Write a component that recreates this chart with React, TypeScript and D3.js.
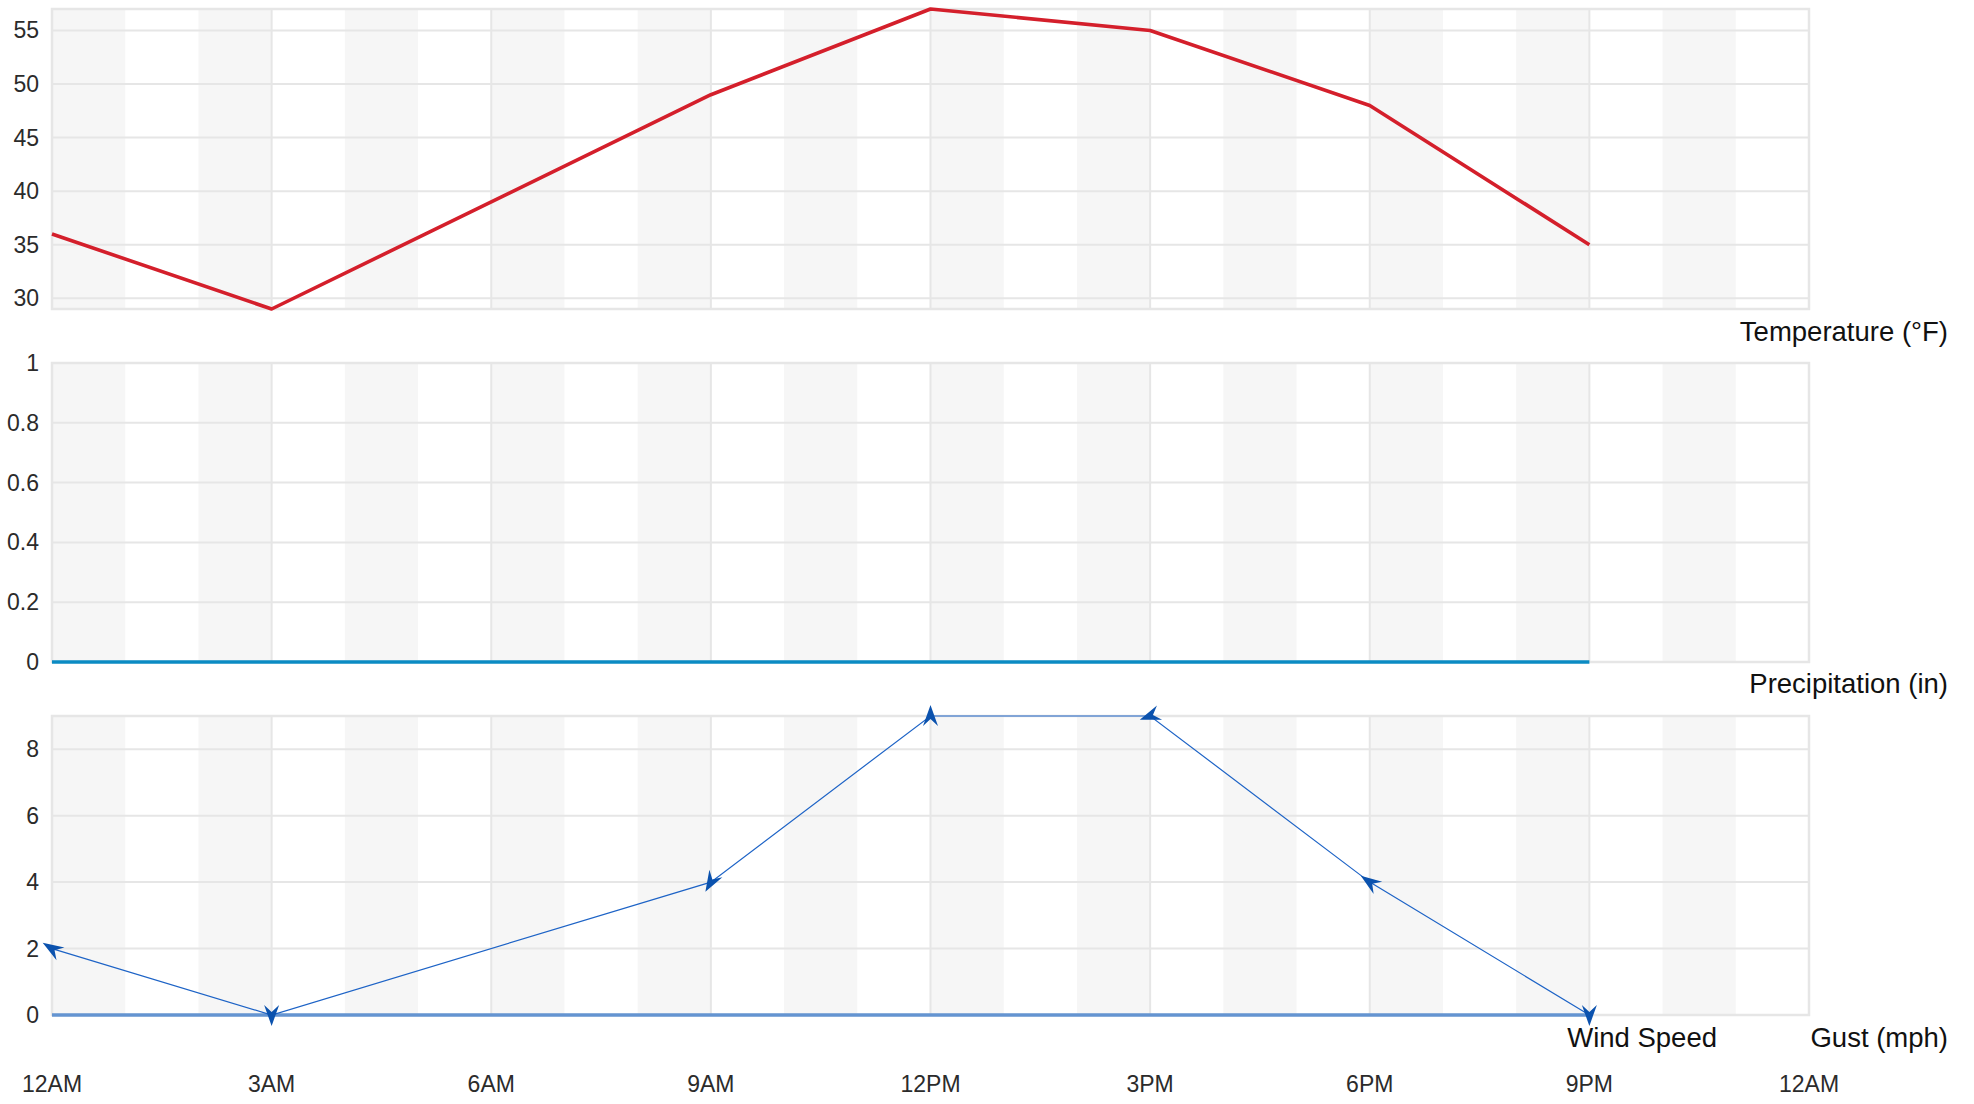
import React from "react";
import * as d3 from "d3";

// ---------- data ----------
const hours = [0, 3, 9, 12, 15, 18, 21];
const temperature = [36, 29, 49, 57, 55, 48, 35];
const precipitation = [0, 0, 0, 0, 0, 0, 0];
const windSpeed = [2, 0, 4, 9, 9, 4, 0];
const windGust = [0, 0, 0, 0, 0, 0, 0];
const windDirection = [122, 0, 30, 180, 70, 125, 0]; // compass degrees wind comes from

const xTickHours = [0, 3, 6, 9, 12, 15, 18, 21, 24];
const xTickLabels = ["12AM", "3AM", "6AM", "9AM", "12PM", "3PM", "6PM", "9PM", "12AM"];
const tempTicks = [30, 35, 40, 45, 50, 55];
const precipTicks = [0, 0.2, 0.4, 0.6, 0.8, 1];
const windTicks = [0, 2, 4, 6, 8];
const bandStarts = [0, 2, 4, 6, 8, 10, 12, 14, 16, 18, 20, 22];

// ---------- layout ----------
const W = 1974;
const H = 1104;
const LEFT = 52;
const RIGHT = 1809;
const FONT = "'Liberation Sans', Arial, Helvetica, sans-serif";
const GRID = "#e6e6e6";
const BAND = "#f6f6f6";

const x = d3.scaleLinear().domain([0, 24]).range([LEFT, RIGHT]);

type PanelProps = {
  top: number;
  bottom: number;
  y: d3.ScaleLinear<number, number>;
  ticks: number[];
  fmt: (v: number) => string;
  children?: React.ReactNode;
};

function Panel({ top, bottom, y, ticks, fmt, children }: PanelProps) {
  return (
    <g>
      {bandStarts.map((h) => (
        <rect key={"b" + h} x={x(h)} y={top} width={x(h + 1) - x(h)} height={bottom - top} fill={BAND} />
      ))}
      {ticks.map((t) => (
        <line key={"h" + t} x1={LEFT} x2={RIGHT} y1={y(t)} y2={y(t)} stroke={GRID} strokeWidth={2} />
      ))}
      {xTickHours.map((h, i) => (
        <line key={"v" + i} x1={x(h)} x2={x(h)} y1={top} y2={bottom} stroke={GRID} strokeWidth={2} />
      ))}
      <rect x={LEFT} y={top} width={RIGHT - LEFT} height={bottom - top} fill="none" stroke={GRID} strokeWidth={2.5} />
      {ticks.map((t) => (
        <text key={"t" + t} x={39} y={y(t)} dy="0.35em" textAnchor="end" fontSize={23} fill="#2b2b2b" fontFamily={FONT}>
          {fmt(t)}
        </text>
      ))}
      {children}
    </g>
  );
}

export default function App() {
  const yT = d3.scaleLinear().domain([29, 57]).range([309, 9]);
  const yP = d3.scaleLinear().domain([0, 1]).range([662, 363]);
  const yW = d3.scaleLinear().domain([0, 9]).range([1015, 716]);

  const tempLine = d3
    .line<number>()
    .x((_, i) => x(hours[i]))
    .y((d) => yT(d))(temperature) as string;
  const precipLine = d3
    .line<number>()
    .x((_, i) => x(hours[i]))
    .y((d) => yP(d))(precipitation) as string;
  const windLine = d3
    .line<number>()
    .x((_, i) => x(hours[i]))
    .y((d) => yW(d))(windSpeed) as string;
  const gustLine = d3
    .line<number>()
    .x((_, i) => x(hours[i]))
    .y((d) => yW(d))(windGust) as string;

  const arrowPath = "M0,11 L-7.5,-10 L0,-3 L7.5,-10 Z";

  return (
    <div style={{ position: "absolute", left: 0, top: 0, width: W, height: H, background: "#fff" }}>
      <svg width={W} height={H} style={{ display: "block" }}>
        <rect x={0} y={0} width={W} height={H} fill="#fff" />

        <Panel top={9} bottom={309} y={yT} ticks={tempTicks} fmt={(v) => String(v)}>
          <path d={tempLine} fill="none" stroke="#d41f2b" strokeWidth={3.6} strokeLinejoin="round" />
        </Panel>
        <text x={1948} y={341} textAnchor="end" fontSize={27.5} fill="#111" fontFamily={FONT}>
          Temperature (°F)
        </text>

        <Panel top={363} bottom={662} y={yP} ticks={precipTicks} fmt={(v) => d3.format("~g")(v)}>
          <path d={precipLine} fill="none" stroke="#0b8bc3" strokeWidth={3.6} />
        </Panel>
        <text x={1948} y={693} textAnchor="end" fontSize={27.5} fill="#111" fontFamily={FONT}>
          Precipitation (in)
        </text>

        <Panel top={716} bottom={1015} y={yW} ticks={windTicks} fmt={(v) => String(v)}>
          <path d={gustLine} fill="none" stroke="#6494d1" strokeWidth={3.6} />
          <path d={windLine} fill="none" stroke="#1d63c6" strokeWidth={1.2} />
          {windSpeed.map((v, i) => (
            <path
              key={"a" + i}
              d={arrowPath}
              fill="#0b52ae"
              transform={`translate(${x(hours[i])},${yW(v)}) rotate(${windDirection[i]})`}
            />
          ))}
        </Panel>
        <text x={1717} y={1047} textAnchor="end" fontSize={27.5} fill="#111" fontFamily={FONT}>
          Wind Speed
        </text>
        <text x={1948} y={1047} textAnchor="end" fontSize={27.5} fill="#111" fontFamily={FONT}>
          Gust (mph)
        </text>

        {xTickHours.map((h, i) => (
          <text key={"x" + i} x={x(h)} y={1092} textAnchor="middle" fontSize={23} fill="#2b2b2b" fontFamily={FONT}>
            {xTickLabels[i]}
          </text>
        ))}
      </svg>
    </div>
  );
}
